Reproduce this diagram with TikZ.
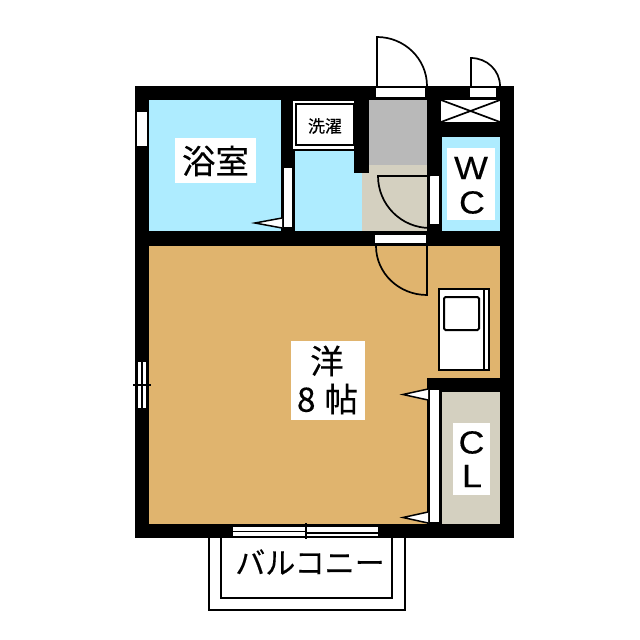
\documentclass[tikz,border=0pt]{standalone}
\usepackage{fontspec}
\setmainfont[FakeBold=0.25]{Noto Sans CJK JP}
\newfontfamily\latinf[FakeBold=0.2]{Liberation Sans}
\definecolor{bluefl}{HTML}{AEECFF}
\definecolor{tanfl}{HTML}{E0B46E}
\definecolor{grayfl}{HTML}{B9B9B9}
\definecolor{beigefl}{HTML}{D4D0C0}
\tikzset{
  wall/.style={fill=black,draw=none},
  opening/.style={fill=white,draw=none},
  thinline/.style={draw=black,line width=1.7pt},
  labelbox/.style={fill=white,draw=none,inner sep=0pt,align=center,text=black},
  letter/.style={labelbox,fill=none,font=\latinf\fontsize{32}{32}\selectfont,xscale=1.12},
  tick/.style={fill=white,draw=black,line width=1.5pt,line join=miter}
}
\begin{document}
\begin{tikzpicture}[x=1pt,y=-1pt]
\useasboundingbox (0,0) rectangle (640,640);
\fill[white] (0,0) rectangle (640,640);
% walls
\fill[wall] (135,86) rectangle (514,538);
% floors
\fill[bluefl] (149,100) rectangle (281,231);
\fill[bluefl] (295,151) rectangle (362,231);
\fill[bluefl] (442,137) rectangle (500,231);
\fill[tanfl] (149,246) rectangle (500,524);
\fill[grayfl] (369,100) rectangle (427,165);
\fill[beigefl] (362,165) rectangle (427,231);
\fill[beigefl] (442,392) rectangle (500,524);
% interior wall pieces
\fill[wall] (354,100) rectangle (369,173);
\fill[wall] (427,378) rectangle (500,392);
\fill[wall] (427,378) rectangle (442,524);
% laundry box
\fill[white] (293,101) rectangle (354,149);
\draw[line width=2pt] (296,103.5) rectangle (354,145);
% X cupboard
\fill[white] (441,100) rectangle (500,122);
\draw[line width=1.7pt] (441,100) -- (500,122) (441,122) -- (500,100);
% openings
\fill[opening] (137,112) rectangle (147,146);
\fill[opening] (284,168) rectangle (292,227);
\fill[opening] (376,88) rectangle (425,97);
\fill[opening] (470,88) rectangle (496,97);
\fill[opening] (430,176) rectangle (439,224);
\fill[opening] (375,235) rectangle (426,243);
\fill[opening] (430,390) rectangle (439,522);
% sliding windows
\fill[opening] (137,362) rectangle (147,408);
\draw[line width=1.2pt] (142,362) -- (142,408) (137,362) -- (137,408) (147,362) -- (147,408);
\draw[line width=1.4pt] (133,385) -- (151,385);
\fill[opening] (233,527) rectangle (378,536);
\draw[line width=1.4pt] (233,531.5) -- (306,531.5) (306,533) -- (378,533);
\draw[line width=1.8pt] (306,523) -- (306,539);
% doors
\draw[thinline] (377,86) -- (377,37) arc[start angle=90,end angle=0,x radius=50,y radius=-49] -- (427,86);
\draw[thinline] (471,86) -- (471,58) arc[start angle=90,end angle=0,x radius=29,y radius=-28] -- (500,86);
\draw[thinline] (430,176) -- (378,176) arc[start angle=180,end angle=270,x radius=52,y radius=-52];
\draw[thinline] (427,246) -- (427,295) arc[start angle=270,end angle=180,x radius=51,y radius=-49];
% stove/kitchen
\draw[line width=2pt,fill=white] (439,288.5) rectangle (489,369.5);
\draw[line width=1.5pt] (484,288.5) -- (484,369.5);
\draw[line width=2pt,rounded corners=1.5pt] (444,297) rectangle (479,330);
% door marks
\draw[tick] (428,389) -- (403,394.5) -- (428,400);
\draw[tick] (428,512) -- (403,517.5) -- (428,523);
\draw[tick] (282,218) -- (255,223) -- (282,228);
% balcony
\draw[thinline] (209,538) -- (209,610) -- (405,610) -- (405,538);
\draw[thinline] (221,538) -- (221,598) -- (392,598) -- (392,538);
% labels
\fill[white] (175,138) rectangle (256,183);
\node[labelbox,font=\fontsize{33.5}{33.5}\selectfont] (bath) at (215.5,161) {浴室};
\node[labelbox,font=\fontsize{17}{17}\selectfont] (laundry) at (325,126) {洗濯};
\fill[white] (447,148) rectangle (495,220);
\node[letter] (w) at (471,168) {W};
\node[letter] (c) at (472,202.5) {C};
\fill[white] (291,341) rectangle (365,420);
\node[labelbox,font=\fontsize{33.5}{33.5}\selectfont] (yo) at (327,361) {洋};
\node[labelbox,font=\fontsize{33.5}{33.5}\selectfont] (hachi) at (327.5,399) {8\hspace{9pt}帖};
\fill[white] (453,423) rectangle (490,495);
\node[letter] (cc) at (471.5,442.5) {C};
\node[letter] (ll) at (472,476) {L};
\node[labelbox,font=\fontsize{30}{30}\selectfont] (balc) at (310,562) {バルコニー};
\end{tikzpicture}
\end{document}
